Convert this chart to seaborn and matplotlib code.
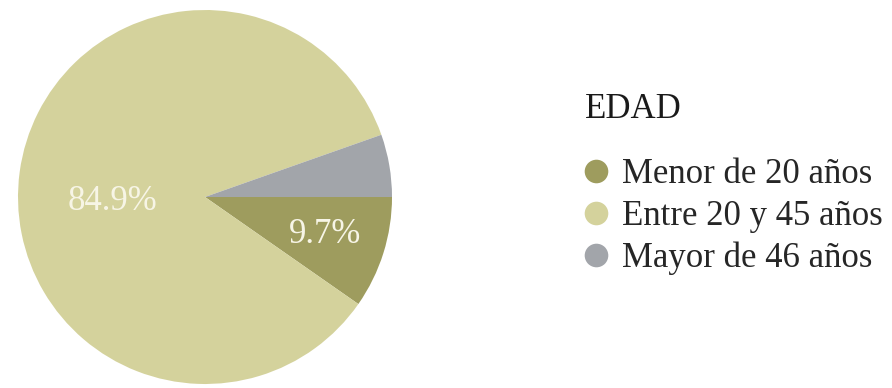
import numpy as np
import pandas as pd
import seaborn as sns
import matplotlib.pyplot as plt
from matplotlib.lines import Line2D

# datos
categorias = ['Menor de 20 años', 'Entre 20 y 45 años', 'Mayor de 46 años']
porcentajes = [9.7, 84.9, 5.4]
etiquetas = ['9.7%', '84.9%', '']
colores = ['#9e9c5e', '#d4d29c', '#a2a5aa']
titulo_leyenda = 'EDAD'

sns.set_theme(style='white')
plt.rcParams['font.family'] = ['Liberation Serif', 'DejaVu Serif']

df = pd.DataFrame({'edad': categorias, 'pct': porcentajes})
pal = sns.color_palette(colores)

fig = plt.figure(figsize=(8.92, 3.88), dpi=100)
ax = fig.add_axes([18/892, 4/388, 374/892, 374/388])
wedges, _ = ax.pie(df['pct'], colors=pal, startangle=0, counterclock=False,
                   radius=1, wedgeprops=dict(linewidth=0))
ax.set_xlim(-1, 1)
ax.set_ylim(-1, 1)

# etiquetas dentro de las porciones (distancia radial y ajuste vertical)
dist = [0.675, 0.5, 0.6]
ajuste_y = [0.0, -0.09, 0.0]
for w, txt, d, dy in zip(wedges, etiquetas, dist, ajuste_y):
    if not txt:
        continue
    ang = np.deg2rad((w.theta1 + w.theta2) / 2)
    ax.text(d*np.cos(ang), d*np.sin(ang) + dy, txt, ha='center', va='center',
            color='#f7f5e6', fontsize=25)

handles = [Line2D([], [], marker='o', linestyle='', markersize=17,
                  markerfacecolor=c, markeredgewidth=0) for c in pal]
fig.legend(handles, df['edad'], loc='upper left',
           bbox_to_anchor=(584/892, (388-158)/388), frameon=False,
           fontsize=25, handlelength=0.7, handletextpad=0.4,
           labelspacing=0.25, borderpad=0, borderaxespad=0)
fig.text(585/892, (388-110)/388, titulo_leyenda, fontsize=25,
         va='center', ha='left', color='#1a1a1a')

fig.savefig('out.png', dpi=100)
